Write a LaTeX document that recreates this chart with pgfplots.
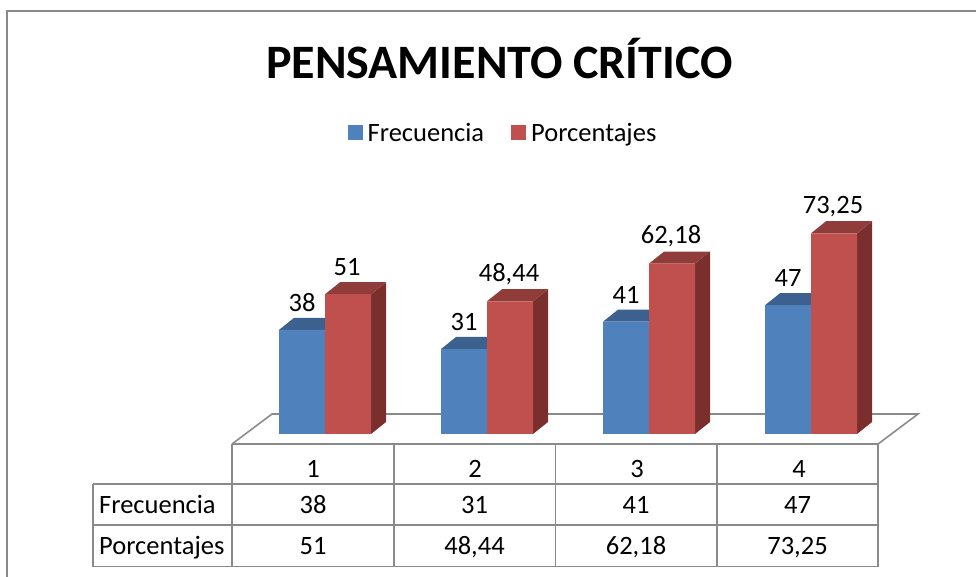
\documentclass[border=0pt]{standalone}
\usepackage{pgfplots}
\pgfplotsset{compat=1.18}
\usepackage{fontspec}
\setmainfont{Carlito}
\definecolor{fblue}{HTML}{4F81BD}
\definecolor{fred}{HTML}{C0504D}
\definecolor{tblue}{HTML}{3C618E}
\definecolor{tred}{HTML}{8F3C3A}
\definecolor{sred}{HTML}{7A2F2D}
\definecolor{gridg}{HTML}{8A8A8A}
\begin{document}
\begin{tikzpicture}[x=1pt,y=1pt]
\path[use as bounding box] (0,0) rectangle (976,577);
% layout layer: pixel coordinates
\begin{axis}[at={(0,0)},anchor=south west,scale only axis,width=976pt,height=577pt,
  xmin=0,xmax=976,ymin=0,ymax=577,y dir=reverse,hide axis,clip=false]
\addplot[draw=gridg,line width=1.8pt] coordinates {(7,577)(7,11)(976,11)};
\addplot[draw=gridg,line width=1.6pt] coordinates {(232,444)(272,414)(918,414)(878,444)};
\addplot[draw=gridg,line width=1.6pt] coordinates {(232,444)(878,444)};
\addplot[draw=gridg,line width=1.6pt] coordinates {(93,484)(878,484)};
\addplot[draw=gridg,line width=1.6pt] coordinates {(93,525)(878,525)};
\addplot[draw=gridg,line width=1.6pt] coordinates {(93,566.5)(878,566.5)};
\addplot[draw=gridg,line width=1.6pt] coordinates {(93,484)(93,566.5)};
\addplot[draw=gridg,line width=1.6pt] coordinates {(232,444)(232,566.5)};
\addplot[draw=gridg,line width=1.6pt] coordinates {(394,444)(394,566.5)};
\addplot[draw=gridg,line width=1.6pt] coordinates {(555.5,444)(555.5,566.5)};
\addplot[draw=gridg,line width=1.6pt] coordinates {(717,444)(717,566.5)};
\addplot[draw=gridg,line width=1.6pt] coordinates {(878,444)(878,566.5)};
\node[font=\fontsize{48}{48}\selectfont\bfseries,anchor=center] at (axis cs:499.5,59) {PENSAMIENTO CRÍTICO};
\node[font=\fontsize{26.5}{26.5}\selectfont,anchor=base west,inner sep=0pt] at (axis cs:99,513) {Frecuencia};
\node[font=\fontsize{26.5}{26.5}\selectfont,anchor=base west,inner sep=0pt] at (axis cs:99,554) {Porcentajes};
\foreach \x/\a/\b in {313/38/51,474.5/31/{48,44},636/41/{62,18},797.5/47/{73,25}}{
  \edef\temp{\noexpand\node[font=\noexpand\fontsize{26.5}{26.5}\noexpand\selectfont,anchor=base,inner sep=0pt] at (axis cs:\x,513) {\a};
  \noexpand\node[font=\noexpand\fontsize{26.5}{26.5}\noexpand\selectfont,anchor=base,inner sep=0pt] at (axis cs:\x,554) {\b};}
  \temp
}
\end{axis}
% data layer
\begin{axis}[at={(0,0)},anchor=south west,scale only axis,width=976pt,height=577pt,
  xmin=-1.00617,xmax=5.0185,ymin=-52.19,ymax=158.39,
  axis line style={draw=none},tick style={draw=none},
  xtick={1,2,3,4},ytick=\empty,
  xticklabels={1,2,3,4},
  x tick label style={font=\fontsize{26.5}{26.5}\selectfont,anchor=center,yshift=108pt,xshift=-12pt},
  legend columns=2,
  legend style={at={(0.5154,0.7695)},anchor=center,draw=none,fill=none,
    font=\fontsize{26.5}{26.5}\selectfont,
    /tikz/every odd column/.append style={column sep=3pt},
    /tikz/every even column/.append style={column sep=25pt}},
  nodes near coords style={font=\fontsize{26.5}{26.5}\selectfont,anchor=center,yshift=27pt,
    /pgf/number format/fixed,/pgf/number format/precision=2,/pgf/number format/use comma,/pgf/number format/assume math mode=true},
  ]
% blue tops
\addplot[fill=tblue,draw=none,forget plot] coordinates {(0.716,38)(0.809,42.4)(1.093,42.4)(1,38)} --cycle;
\addplot[fill=tblue,draw=none,forget plot] coordinates {(1.716,31)(1.809,35.4)(2.093,35.4)(2,31)} --cycle;
\addplot[fill=tblue,draw=none,forget plot] coordinates {(2.716,41)(2.809,45.4)(3.093,45.4)(3,41)} --cycle;
\addplot[fill=tblue,draw=none,forget plot] coordinates {(3.716,47)(3.809,51.4)(4.093,51.4)(4,47)} --cycle;
% blue bars
\addplot[ybar,bar width=46pt,bar shift=-23pt,fill=fblue,draw=none,
  nodes near coords,every node near coord/.append style={xshift=-23pt},
  legend image code/.code={\fill[fblue] (0pt,-7.5pt) rectangle (15pt,7.5pt);}]
  coordinates {(1,38)(2,31)(3,41)(4,47)};
\addlegendentry{Frecuencia}
% red sides
\addplot[fill=sred,draw=none,forget plot] coordinates {(1.284,0)(1.377,4.4)(1.377,55.4)(1.284,51)} --cycle;
\addplot[fill=sred,draw=none,forget plot] coordinates {(2.284,0)(2.377,4.4)(2.377,52.84)(2.284,48.44)} --cycle;
\addplot[fill=sred,draw=none,forget plot] coordinates {(3.284,0)(3.377,4.4)(3.377,66.58)(3.284,62.18)} --cycle;
\addplot[fill=sred,draw=none,forget plot] coordinates {(4.284,0)(4.377,4.4)(4.377,77.65)(4.284,73.25)} --cycle;
% red tops
\addplot[fill=tred,draw=none,forget plot] coordinates {(1,51)(1.093,55.4)(1.377,55.4)(1.284,51)} --cycle;
\addplot[fill=tred,draw=none,forget plot] coordinates {(2,48.44)(2.093,52.84)(2.377,52.84)(2.284,48.44)} --cycle;
\addplot[fill=tred,draw=none,forget plot] coordinates {(3,62.18)(3.093,66.58)(3.377,66.58)(3.284,62.18)} --cycle;
\addplot[fill=tred,draw=none,forget plot] coordinates {(4,73.25)(4.093,77.65)(4.377,77.65)(4.284,73.25)} --cycle;
% red bars
\addplot[ybar,bar width=46pt,bar shift=23pt,fill=fred,draw=none,
  nodes near coords,every node near coord/.append style={xshift=22pt},
  legend image code/.code={\fill[fred] (0pt,-7.5pt) rectangle (15pt,7.5pt);}]
  coordinates {(1,51)(2,48.44)(3,62.18)(4,73.25)};
\addlegendentry{Porcentajes}
\end{axis}
\end{tikzpicture}
\end{document}
